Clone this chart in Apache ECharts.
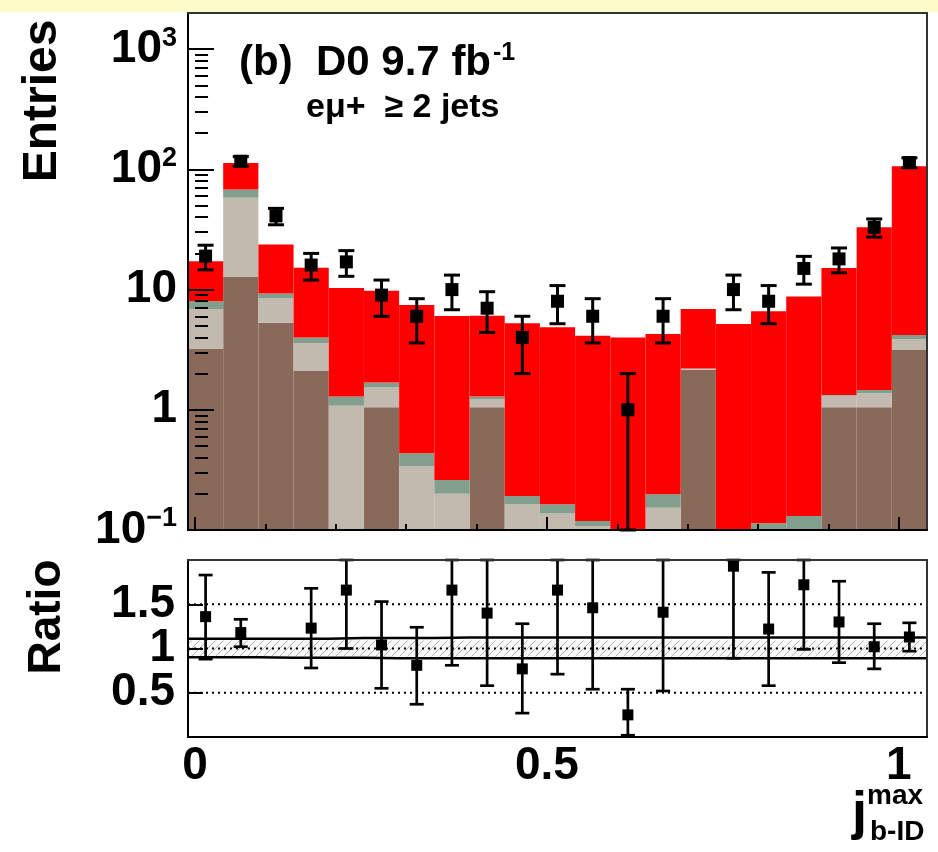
<!DOCTYPE html>
<html>
<head>
<meta charset="utf-8">
<script src="https://cdn.jsdelivr.net/npm/echarts@6/dist/echarts.min.js"></script>
<style>
  html, body { margin: 0; padding: 0; background: #ffffff; }
  #chart { width: 938px; height: 852px; }
</style>
</head>
<body>
<div id="chart"></div>
<script>
// Histogram binning in j_b-ID^max
const binEdges = [-0.01, 0.04, 0.09, 0.14, 0.19, 0.24, 0.29, 0.34, 0.39, 0.44, 0.49,
                  0.54, 0.59, 0.64, 0.69, 0.74, 0.79, 0.84, 0.89, 0.94, 0.99, 1.04];

// Stacked expectations per bin, from the bottom of the stack upwards
const stackBrown = [3.2, 12.7, 5.3, 2.1, 0.05, 1.05, 0.04, 0.03, 1.05, 0.02, 0.02,
                    0.02, 0.01, 0.02, 2.15, 0.01, 0.01, 0.01, 1.05, 1.05, 3.14];
const stackBeige = [3.7, 45.3, 3.2, 1.5, 1.03, 0.48, 0.30, 0.17, 0.18, 0.144, 0.117,
                    0.088, 0.04, 0.133, 0.04, 0.03, 0.04, 0.05, 0.26, 0.32, 0.74];
const stackGreen = [1.1, 10, 0.8, 0.4, 0.21, 0.16, 0.095, 0.061, 0.06, 0.028, 0.027,
                    0.011, 0.02, 0.045, 0.02, 0.03, 0.064, 0.071, 0.02, 0.09, 0.31];
const stackRed   = [9.2, 45, 14.4, 11.2, 9.0, 8.1, 7.0, 5.78, 4.78, 5.05, 4.69,
                    4.02, 3.93, 4.07, 4.69, 5.11, 6.49, 8.62, 13.8, 31.5, 101.8];

// Observed entries and their uncertainties
const dataCounts = [19, 117, 41, 16, 17, 9, 6, 10, 7, 4, 8, 6, 1, 6, null, 10, 8, 15, 18, 33, 114];
const dataErrors = [4.4, 10.8, 6.4, 4.0, 4.1, 3.0, 2.4, 3.2, 2.6, 2.0, 2.8, 2.4, 1.0, 2.4, null,
                    3.2, 2.8, 3.9, 4.2, 5.7, 10.7];

// Data / expectation ratio with lower and upper error bounds
const ratioValues = [1.36, 1.18, null, 1.23, 1.66, 1.04, 0.81, 1.66, 1.40, 0.77, 1.66,
                     1.46, 0.25, 1.41, null, 1.93, 1.22, 1.72, 1.30, 1.02, 1.13];
const ratioLow    = [0.88, 1.02, null, 0.78, 1.00, 0.55, 0.37, 0.81, 0.58, 0.27, 0.71,
                     0.54, 0.02, 0.52, null, 0.89, 0.58, 0.99, 0.84, 0.77, 0.97];
const ratioHigh   = [1.83, 1.33, null, 1.68, 2.3, 1.53, 1.24, 2.3, 2.3, 1.28, 2.3,
                     2.3, 0.54, 2.3, null, 2.9, 1.86, 2.3, 1.76, 1.28, 1.29];

// Uncertainty band on the expectation (hatched) and its outer envelope (solid)
const bandLow  = [0.91, 0.91, 0.91, 0.91, 0.91, 0.91, 0.91, 0.91, 0.91, 0.91, 0.91,
                  0.91, 0.91, 0.91, 0.91, 0.91, 0.91, 0.91, 0.91, 0.91, 0.91];
const bandHigh = [1.09, 1.09, 1.09, 1.09, 1.09, 1.09, 1.09, 1.09, 1.09, 1.09, 1.09,
                  1.09, 1.09, 1.09, 1.09, 1.09, 1.09, 1.09, 1.09, 1.09, 1.09];
const envLow   = [0.90, 0.90, 0.895, 0.895, 0.895, 0.89, 0.89, 0.89, 0.89, 0.89, 0.89,
                  0.89, 0.89, 0.89, 0.89, 0.89, 0.89, 0.89, 0.89, 0.89, 0.89];
const envHigh  = [1.11, 1.11, 1.11, 1.11, 1.12, 1.12, 1.12, 1.125, 1.125, 1.125, 1.125,
                  1.125, 1.125, 1.125, 1.125, 1.125, 1.125, 1.125, 1.125, 1.125, 1.125];
const refLevels = [0.5, 1, 1.5];

// Axis tick positions and labels
const xMajorTicks = [0, 0.5, 1];
const xMinorTicks = [0.1, 0.2, 0.3, 0.4, 0.6, 0.7, 0.8, 0.9];
const xTickLabels = ['0', '0.5', '1'];
const yMajorTicks = [0.1, 1, 10, 100, 1000];
const yMinorTicks = [0.2, 0.3, 0.4, 0.5, 0.6, 0.7, 0.8, 0.9,
                     2, 3, 4, 5, 6, 7, 8, 9,
                     20, 30, 40, 50, 60, 70, 80, 90,
                     200, 300, 400, 500, 600, 700, 800, 900];
const yTickLabels = ['{m|10}{s|\u22121}', '{m|1}', '{m|10}', '{m|10}{s|2}', '{m|10}{s|3}'];
const ratioTicks = [0.5, 1, 1.5];
const ratioTickLabels = ['0.5', '1', '1.5'];

const X_MIN = binEdges[0], X_MAX = binEdges[binEdges.length - 1];
const Y_MIN = 0.1, Y_MAX = 2000;
const R_MIN = 0, R_MAX = 2;
const FONT = '"Liberation Sans", Arial, Helvetica, sans-serif';
const COLORS = { brown: '#88695a', beige: '#c2b9af', green: '#829e8c', red: '#ff0000' };

// Build stacked rectangles [lo, hi, bottom, top]
const layers = [
  { name: 'brown', vals: stackBrown },
  { name: 'beige', vals: stackBeige },
  { name: 'green', vals: stackGreen },
  { name: 'red', vals: stackRed }
];
const cumulative = binEdges.slice(1).map(() => 0);
const stackSeries = layers.map(layer => {
  const items = layer.vals.map((v, i) => {
    const bottom = cumulative[i];
    cumulative[i] += v;
    return [binEdges[i], binEdges[i + 1], bottom, cumulative[i]];
  });
  return {
    type: 'custom',
    name: layer.name,
    xAxisIndex: 0, yAxisIndex: 0,
    z: 2,
    silent: true,
    data: items,
    encode: { x: [0, 1], y: [2, 3] },
    renderItem: function (params, api) {
      const bottom = Math.max(api.value(2), Y_MIN);
      const top = Math.min(api.value(3), Y_MAX);
      if (top <= bottom) return null;
      const p1 = api.coord([api.value(0), top]);
      const p2 = api.coord([api.value(1), bottom]);
      return {
        type: 'rect',
        shape: { x: p1[0], y: p1[1], width: p2[0] - p1[0], height: p2[1] - p1[1] },
        style: { fill: COLORS[layer.name], stroke: null }
      };
    }
  };
});

const binCenters = binEdges.slice(1).map((e, i) => (e + binEdges[i]) / 2);

const dataPoints = [];
const dataBars = [];
dataCounts.forEach((v, i) => {
  if (v == null) return;
  dataPoints.push([binCenters[i], v]);
  dataBars.push([binCenters[i], v, v - dataErrors[i], v + dataErrors[i]]);
});
const ratioPoints = [];
const ratioBars = [];
ratioValues.forEach((v, i) => {
  if (v == null) return;
  ratioPoints.push([binCenters[i], v]);
  ratioBars.push([binCenters[i], v, ratioLow[i], ratioHigh[i]]);
});

function errorBarRenderer(lo, hi, capHalf, width) {
  return function (params, api) {
    const x = api.value(0);
    const a = Math.max(api.value(2), lo);
    const b = Math.min(api.value(3), hi);
    const pt = api.coord([x, b]);
    const pb = api.coord([x, a]);
    const st = { stroke: '#000', lineWidth: width };
    return {
      type: 'group',
      children: [
        { type: 'line', shape: { x1: pt[0], y1: pt[1], x2: pb[0], y2: pb[1] }, style: st },
        { type: 'line', shape: { x1: pt[0] - capHalf, y1: pt[1], x2: pt[0] + capHalf, y2: pt[1] }, style: st },
        { type: 'line', shape: { x1: pb[0] - capHalf, y1: pb[1], x2: pb[0] + capHalf, y2: pb[1] }, style: st }
      ]
    };
  };
}

// Diagonal hatch used for the expectation uncertainty band
const hatch = document.createElement('canvas');
hatch.width = 8; hatch.height = 8;
(function () {
  const c = hatch.getContext('2d');
  c.fillStyle = '#f6f6f6';
  c.fillRect(0, 0, 8, 8);
  c.strokeStyle = '#b4b4b4';
  c.lineWidth = 1;
  c.beginPath();
  c.moveTo(-1, 9); c.lineTo(9, -1);
  c.moveTo(-1, 1); c.lineTo(1, -1);
  c.moveTo(7, 9); c.lineTo(9, 7);
  c.stroke();
})();

const bandItems = bandLow.map((v, i) => [binEdges[i], binEdges[i + 1], v, bandHigh[i]]);
function stepLine(values) {
  const pts = [];
  values.forEach((v, i) => { pts.push([binEdges[i], v]); pts.push([binEdges[i + 1], v]); });
  return pts;
}

const axisLineStyle = { color: '#000', width: 2 };
const frameLineStyle = { color: '#333', width: 2 };

// Ratio axis labels are split over two axes so that neighbouring labels never collide
function ratioLabelAxis(values, withLine) {
  return {
    type: 'value', gridIndex: 1, position: 'left', min: R_MIN, max: R_MAX, z: 5,
    axisLine: { show: withLine, onZero: false, lineStyle: axisLineStyle },
    axisTick: { show: true, inside: true, length: 15, customValues: values, lineStyle: { color: '#000', width: 2 } },
    axisLabel: {
      show: true, customValues: values, margin: 13, hideOverlap: false,
      formatter: v => ratioTickLabels[ratioTicks.indexOf(v)],
      color: '#000', fontFamily: FONT, fontWeight: 'bold', fontSize: 46
    },
    splitLine: { show: false }
  };
}

const option = {
  animation: false,
  backgroundColor: '#ffffff',
  grid: [
    { left: 188, top: 13, width: 739, height: 517, show: false },
    { left: 188, top: 560, width: 739, height: 177, show: false }
  ],
  xAxis: [
    { // upper panel, major ticks
      type: 'value', gridIndex: 0, position: 'bottom', min: X_MIN, max: X_MAX, z: 5,
      axisLine: { show: true, onZero: false, lineStyle: axisLineStyle },
      axisTick: { show: true, inside: true, length: 13, customValues: xMajorTicks, lineStyle: { color: '#000', width: 2 } },
      axisLabel: { show: false }, splitLine: { show: false }
    },
    { // upper panel, minor ticks
      type: 'value', gridIndex: 0, position: 'bottom', min: X_MIN, max: X_MAX, z: 5,
      axisLine: { show: false },
      axisTick: { show: true, inside: true, length: 6, customValues: xMinorTicks, lineStyle: { color: '#000', width: 2 } },
      axisLabel: { show: false }, splitLine: { show: false }
    },
    { // upper panel, top frame
      type: 'value', gridIndex: 0, position: 'top', min: X_MIN, max: X_MAX, z: 5,
      axisLine: { show: true, onZero: false, lineStyle: frameLineStyle },
      axisTick: { show: false }, axisLabel: { show: false }, splitLine: { show: false }
    },
    { // ratio panel, labelled axis
      type: 'value', gridIndex: 1, position: 'bottom', min: X_MIN, max: X_MAX, z: 5,
      axisLine: { show: true, onZero: false, lineStyle: axisLineStyle },
      axisTick: { show: false },
      axisLabel: {
        show: true, customValues: xMajorTicks, margin: 6, hideOverlap: false,
        formatter: v => xTickLabels[xMajorTicks.indexOf(v)],
        color: '#000', fontFamily: FONT, fontWeight: 'bold', fontSize: 46
      },
      splitLine: { show: false }
    },
    { // ratio panel, top frame
      type: 'value', gridIndex: 1, position: 'top', min: X_MIN, max: X_MAX, z: 5,
      axisLine: { show: true, onZero: false, lineStyle: frameLineStyle },
      axisTick: { show: false }, axisLabel: { show: false }, splitLine: { show: false }
    }
  ],
  yAxis: [
    { // upper panel, log scale with decade ticks
      type: 'log', logBase: 10, gridIndex: 0, position: 'left', min: Y_MIN, max: Y_MAX, z: 5,
      axisLine: { show: true, onZero: false, lineStyle: axisLineStyle },
      axisTick: { show: true, inside: true, length: 26, customValues: yMajorTicks, lineStyle: { color: '#000', width: 2 } },
      axisLabel: {
        show: true, customValues: yMajorTicks, margin: 11, hideOverlap: false,
        formatter: v => yTickLabels[Math.round(Math.log10(v)) + 1],
        rich: {
          m: { fontFamily: FONT, fontWeight: 'bold', fontSize: 46, color: '#000' },
          s: { fontFamily: FONT, fontWeight: 'bold', fontSize: 27, color: '#000', verticalAlign: 'top', padding: [0, 0, 22, 0] }
        }
      },
      splitLine: { show: false }
    },
    { // upper panel, minor ticks
      type: 'log', logBase: 10, gridIndex: 0, position: 'left', min: Y_MIN, max: Y_MAX, z: 5,
      axisLine: { show: false },
      axisTick: { show: true, inside: true, length: 13, customValues: yMinorTicks, lineStyle: { color: '#000', width: 2 } },
      axisLabel: { show: false }, splitLine: { show: false }
    },
    { // upper panel, right frame
      type: 'log', logBase: 10, gridIndex: 0, position: 'right', min: Y_MIN, max: Y_MAX, z: 5,
      axisLine: { show: true, onZero: false, lineStyle: frameLineStyle },
      axisTick: { show: false }, axisLabel: { show: false }, splitLine: { show: false }
    },
    ratioLabelAxis([ratioTicks[1]], true),
    { // ratio panel, right frame
      type: 'value', gridIndex: 1, position: 'right', min: R_MIN, max: R_MAX, z: 5,
      axisLine: { show: true, onZero: false, lineStyle: frameLineStyle },
      axisTick: { show: false }, axisLabel: { show: false }, splitLine: { show: false }
    },
    ratioLabelAxis([ratioTicks[0], ratioTicks[2]], false)
  ],
  series: [
    ...stackSeries,
    {
      type: 'custom', name: 'data errors', xAxisIndex: 0, yAxisIndex: 0, z: 3, silent: true,
      data: dataBars, encode: { x: 0, y: [1, 2, 3] },
      renderItem: errorBarRenderer(Y_MIN, Y_MAX, 8, 3)
    },
    {
      type: 'scatter', name: 'data', xAxisIndex: 0, yAxisIndex: 0, z: 4, silent: true,
      data: dataPoints, symbol: 'rect', symbolSize: 13,
      itemStyle: { color: '#000', opacity: 1 }
    },
    {
      type: 'custom', name: 'band', xAxisIndex: 3, yAxisIndex: 3, z: 2, silent: true,
      data: bandItems, encode: { x: [0, 1], y: [2, 3] },
      renderItem: function (params, api) {
        const p1 = api.coord([api.value(0), api.value(3)]);
        const p2 = api.coord([api.value(1), api.value(2)]);
        return {
          type: 'rect',
          shape: { x: p1[0], y: p1[1], width: p2[0] - p1[0], height: p2[1] - p1[1] },
          style: { fill: { image: hatch, repeat: 'repeat' }, stroke: null }
        };
      }
    },
    {
      type: 'line', name: 'envelope up', xAxisIndex: 3, yAxisIndex: 3, z: 3, silent: true,
      data: stepLine(envHigh), symbol: 'none', lineStyle: { color: '#000', width: 2.5 }
    },
    {
      type: 'line', name: 'envelope down', xAxisIndex: 3, yAxisIndex: 3, z: 3, silent: true,
      data: stepLine(envLow), symbol: 'none', lineStyle: { color: '#000', width: 2.5 }
    },
    ...refLevels.map(r => ({
      type: 'line', name: 'ref ' + r, xAxisIndex: 3, yAxisIndex: 3, z: 3, silent: true,
      data: [[X_MIN, r], [X_MAX, r]], symbol: 'none',
      lineStyle: { color: '#000', width: 2, type: [2, 4] }
    })),
    {
      type: 'custom', name: 'ratio errors', xAxisIndex: 3, yAxisIndex: 3, z: 4, silent: true,
      data: ratioBars, encode: { x: 0, y: [1, 2, 3] },
      renderItem: errorBarRenderer(R_MIN, R_MAX, 7, 2.7)
    },
    {
      type: 'scatter', name: 'ratio', xAxisIndex: 3, yAxisIndex: 3, z: 5, silent: true,
      data: ratioPoints, symbol: 'rect', symbolSize: 11,
      itemStyle: { color: '#000', opacity: 1 }
    }
  ],
  graphic: [
    { type: 'rect', left: 0, top: 0, shape: { width: 938, height: 12 }, style: { fill: '#fffccc' }, z: 10 },
    {
      type: 'text', x: 43, y: 101, rotation: Math.PI / 2,
      style: { text: 'Entries', font: 'bold 48px ' + FONT, fill: '#000', textAlign: 'center', textVerticalAlign: 'middle' }
    },
    {
      type: 'text', x: 47, y: 617, rotation: Math.PI / 2,
      style: { text: 'Ratio', font: 'bold 46px ' + FONT, fill: '#000', textAlign: 'center', textVerticalAlign: 'middle' }
    },
    {
      type: 'text', x: 239, y: 63, z: 20,
      style: {
        text: '{a|(b)  D0 9.7 fb}{s|-1}', textAlign: 'left', textVerticalAlign: 'middle',
        rich: {
          a: { font: 'bold 42px ' + FONT, fill: '#000' },
          s: { font: 'bold 25px ' + FONT, fill: '#000', verticalAlign: 'top', padding: [0, 0, 20, 2] }
        }
      }
    },
    {
      type: 'text', x: 306, y: 108, z: 20,
      style: { text: 'e\u03bc+  \u2265 2 jets', font: 'bold 34px ' + FONT, fill: '#000', textAlign: 'left', textVerticalAlign: 'middle' }
    },
    {
      type: 'text', x: 852, y: 814,
      style: { text: 'j', font: 'bold 54px ' + FONT, fill: '#000', textAlign: 'left', textVerticalAlign: 'middle' }
    },
    {
      type: 'text', x: 867, y: 796,
      style: { text: 'max', font: 'bold 28px ' + FONT, fill: '#000', textAlign: 'left', textVerticalAlign: 'middle' }
    },
    {
      type: 'text', x: 870, y: 832,
      style: { text: 'b-ID', font: 'bold 28px ' + FONT, fill: '#000', textAlign: 'left', textVerticalAlign: 'middle' }
    }
  ]
};

const chart = echarts.init(document.getElementById('chart'), null, { renderer: 'canvas' });
chart.setOption(option);
</script>
</body>
</html>
